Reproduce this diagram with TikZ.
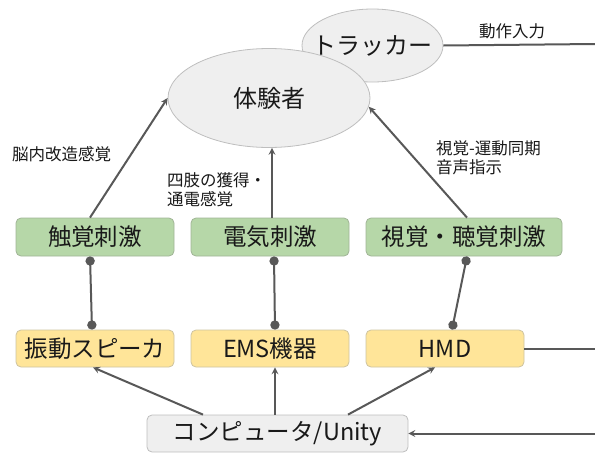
\documentclass[tikz,border=0pt]{standalone}
\usepackage{fontspec}
\setmainfont{Noto Sans CJK JP}
\usepackage{tikz}
\usetikzlibrary{arrows,shapes,positioning}
\usepackage{xcolor}
\definecolor{fxgreen}{RGB}{182,215,168}
\definecolor{fxgreenline}{RGB}{160,180,150}
\definecolor{fxyellow}{RGB}{255,229,153}
\definecolor{fxyellowline}{RGB}{205,195,160}
\definecolor{fxgray}{RGB}{239,239,239}
\definecolor{fxgrayline}{RGB}{190,190,190}
\definecolor{fxline}{RGB}{88,88,88}
\definecolor{fxtext}{RGB}{25,25,25}
\tikzstyle{arrow} = [line width=2pt,->,>=stealth,color=fxline]
\tikzstyle{link} = [line width=2pt,*-*,color=fxline]
\tikzstyle{plain} = [line width=2pt,color=fxline]
\tikzstyle{person} = [ellipse, draw=fxgrayline, fill=fxgray, line width=0.8pt, inner sep=0pt, label={[text=fxtext, font=\fontsize{24}{28}\selectfont]center:#1}]
\tikzstyle{stimulus} = [rectangle, rounded corners=5pt, minimum width=158pt, minimum height=38pt, text centered, draw=fxgreenline, fill=fxgreen, line width=0.8pt, text=fxtext, font=\fontsize{23.5}{27}\selectfont]
\tikzstyle{device} = [rectangle, rounded corners=5pt, minimum width=158pt, minimum height=37pt, text centered, draw=fxyellowline, fill=fxyellow, line width=0.8pt, text=fxtext, font=\fontsize{23.5}{27}\selectfont]
\tikzstyle{pcbox} = [rectangle, rounded corners=5pt, minimum width=261pt, minimum height=37pt, text centered, draw=fxgrayline, fill=fxgray, line width=0.8pt, text=fxtext, font=\fontsize{23.5}{27}\selectfont]
\tikzstyle{note} = [inner sep=0pt, align=left, text=fxtext, font=\fontsize{16.5}{19.5}\selectfont]
\begin{document}
\begin{tikzpicture}
\useasboundingbox (0,0) rectangle (595pt,-453pt);
% Participant and tracker
\node (tracker) [person=トラッカー, minimum width=141pt, minimum height=73pt] at (372.5pt,-45.5pt) {};
\node (user) [person=体験者, minimum width=202pt, minimum height=99pt] at (269pt,-98pt) {};

% Stimuli
\node (touch) [stimulus] at (95pt,-237pt) {触覚刺激};
\node (elec) [stimulus, node distance=175pt, right of=touch] {電気刺激};
\node (visual) [stimulus, node distance=194pt, right of=elec, minimum width=196pt] {視覚・聴覚刺激};

% Devices
\node (vib) [device, node distance=111.5pt, below of=touch] {振動スピーカ};
\node (ems) [device, node distance=111.5pt, below of=elec] {EMS機器};
\node (hmd) [device, node distance=111.5pt, below of=visual, xshift=-19pt] {HMD};
\node (pc) [pcbox, node distance=85pt, below of=ems, xshift=7.5pt] {コンピュータ/Unity};

% Free ends at the right edge
\coordinate (trackout) at (595pt,-44pt);
\coordinate (hmdout) at (595pt,-348.5pt);
\coordinate (pcin) at (595pt,-433.5pt);

\draw[arrow] ([xshift=-5pt]touch.north) -- (user.west);
\draw[arrow] ([xshift=2pt]elec.north) -- ([xshift=3pt]user.south);
\draw[arrow] ([xshift=3pt]visual.north) -- (user.-5);

\draw[link] ([xshift=-5pt]touch.south) -- ([xshift=-3pt]vib.north);
\draw[link] ([xshift=4pt]elec.south) -- ([xshift=5pt]ems.north);
\draw[link] ([xshift=3pt]visual.south) -- ([xshift=7pt]hmd.north);

\draw[arrow] ([xshift=-74.5pt]pc.north) -- ([xshift=-2pt]vib.south);
\draw[arrow] ([xshift=-2.5pt]pc.north) -- ([xshift=5pt]ems.south);
\draw[arrow] ([xshift=70.5pt]pc.north) -- ([xshift=-10pt]hmd.south);

\draw[plain] (tracker.east) -- (trackout);
\draw[plain] (hmd.east) -- (hmdout);
\draw[arrow] (pcin) -- (pc.east);

% Labels
\node (brain) [note, anchor=west] at (12pt,-154pt) {脳内改造感覚};
\node (limb) [note, anchor=west] at (167pt,-189.5pt) {四肢の獲得・\\通電感覚};
\node (sync) [note, anchor=west] at (436pt,-158pt) {視覚-運動同期\\音声指示};
\node (motion) [note] at (512pt,-31pt) {動作入力};
\end{tikzpicture}
\end{document}
